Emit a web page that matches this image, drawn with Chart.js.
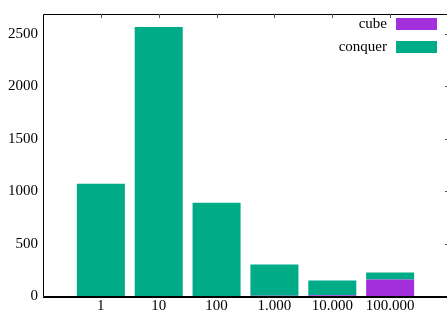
<!DOCTYPE html>
<html>
<head>
<meta charset="utf-8">
<script src="https://cdn.jsdelivr.net/npm/chart.js@4/dist/chart.umd.min.js"></script>
<style>
  html, body { margin: 0; padding: 0; background: #fff; overflow: hidden; }
  canvas { display: block; }
</style>
</head>
<body>
<canvas id="chart" width="452" height="311"></canvas>
<script>
// problem sizes along the x axis
const SIZES   = ['1', '10', '100', '1.000', '10.000', '100.000'];
// time spent per phase, stacked (cube at the bottom)
const CUBE    = [0, 0, 0, 2, 6, 157];
const CONQUER = [1070, 2566, 890, 298, 141, 66];
const Y_TICKS = [0, 500, 1000, 1500, 2000, 2500];

const COLOR_CUBE    = '#a22fdb';
const COLOR_CONQUER = '#00ab88';
const FONT = { family: "'Liberation Serif', 'DejaVu Serif', serif", size: 15 };

// one empty slot each side so the bars sit at -1 .. 6 like gnuplot's histogram
const pad = arr => [null, ...arr, null];
const labels = ['', ...SIZES, ''];

// gnuplot-style border, inward mirror ticks and right-hand key
const gnuplotFrame = {
  id: 'gnuplotFrame',
  afterDraw(chart) {
    const { ctx, chartArea: a, scales } = chart;
    ctx.save();
    ctx.strokeStyle = '#000';
    ctx.lineWidth = 1;
    ctx.beginPath();
    ctx.moveTo(a.right, a.top + 0.5);
    ctx.lineTo(a.left + 0.5, a.top + 0.5);
    ctx.lineTo(a.left + 0.5, a.bottom + 0.5);
    ctx.lineTo(a.right, a.bottom + 0.5);
    ctx.moveTo(a.left, a.bottom + 1.5);
    ctx.lineTo(a.right, a.bottom + 1.5);
    ctx.stroke();
    // top ticks at each category
    ctx.strokeStyle = '#555';
    SIZES.forEach((_, i) => {
      const x = Math.round(scales.x.getPixelForValue(i + 1)) + 0.5;
      ctx.beginPath();
      ctx.moveTo(x, a.top);
      ctx.lineTo(x, a.top + 4);
      ctx.stroke();
    });
    // right ticks at y values (just inside the clipped right border)
    Y_TICKS.slice(1).forEach(v => {
      const y = Math.round(scales.y.getPixelForValue(v)) + 0.5;
      ctx.beginPath();
      ctx.moveTo(a.right - 3, y);
      ctx.lineTo(a.right, y);
      ctx.stroke();
    });
    // key, text left of the swatch
    ctx.font = `${FONT.size}px ${FONT.family}`;
    ctx.textAlign = 'right';
    ctx.textBaseline = 'middle';
    chart.data.datasets.forEach((ds, i) => {
      const y = 24 + i * 23;
      ctx.fillStyle = '#000';
      ctx.fillText(ds.label, 387, y);
      ctx.fillStyle = ds.backgroundColor;
      ctx.fillRect(396, y - 6, 41, 12);
    });
    ctx.restore();
  }
};

new Chart(document.getElementById('chart'), {
  type: 'bar',
  data: {
    labels,
    datasets: [
      { label: 'cube',    data: pad(CUBE),    backgroundColor: COLOR_CUBE },
      { label: 'conquer', data: pad(CONQUER), backgroundColor: COLOR_CONQUER },
    ],
  },
  options: {
    responsive: false,
    animation: false,
    layout: { padding: { top: 10, right: 4, left: 0, bottom: 0 } },
    datasets: { bar: { barPercentage: 0.83, categoryPercentage: 1 } },
    plugins: { legend: { display: false }, tooltip: { enabled: false } },
    scales: {
      x: {
        stacked: true,
        offset: false,
        grid: { display: false, drawTicks: false },
        border: { display: false },
        ticks: { color: '#000', font: FONT, padding: 1, autoSkip: false, maxRotation: 0 },
        afterFit: s => { s.height = 15; },
      },
      y: {
        stacked: true,
        min: 0,
        max: 2690,
        grid: { display: false, drawTicks: false },
        border: { display: false },
        ticks: { color: '#000', font: FONT, padding: 5, callback: v => String(v) },
        afterBuildTicks: s => { s.ticks = Y_TICKS.map(v => ({ value: v })); },
        afterFit: s => { s.width = 43; },
      },
    },
  },
  plugins: [gnuplotFrame],
});
</script>
</body>
</html>
